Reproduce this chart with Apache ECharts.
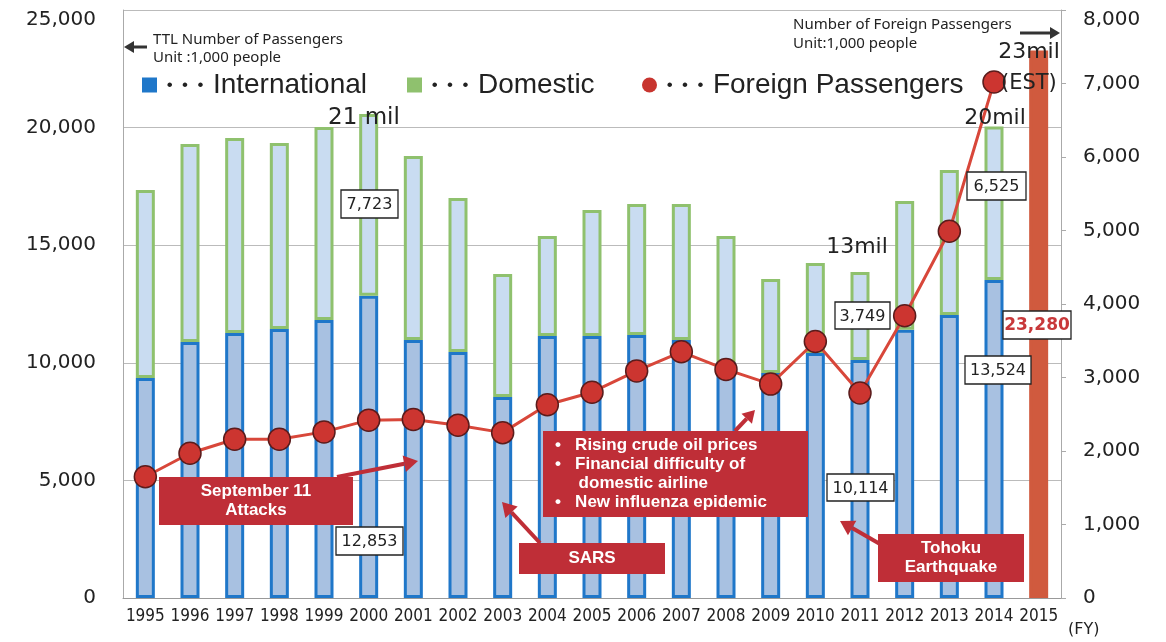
<!DOCTYPE html>
<html>
<head>
<meta charset="utf-8">
<script src="https://cdn.jsdelivr.net/npm/echarts@6/dist/echarts.min.js"></script>
<style>
  html, body { margin: 0; padding: 0; background: #fff; }
  #main { width: 1166px; height: 642px; }
</style>
</head>
<body>
<div id="main"></div>
<script>
// data (unit: 1,000 people)
var years = ['1995', '1996', '1997', '1998', '1999', '2000', '2001', '2002', '2003', '2004', '2005',
    '2006', '2007', '2008', '2009', '2010', '2011', '2012', '2013', '2014', '2015'];
var international = [9350, 10880, 11270, 11440, 11820, 12853, 10970, 10460, 8550, 11140, 11140,
    11180, 10970, 10030, 9570, 10420, 10114, 11400, 12030, 13524, '-'];
var domestic = [8000, 8420, 8290, 7910, 8210, 7723, 7820, 6550, 5230, 4250, 5360,
    5570, 5780, 5360, 3990, 3820, 3749, 5480, 6170, 6525, '-'];
var foreign = [1650, 1970, 2160, 2160, 2260, 2420, 2430, 2350, 2250, 2630, 2800,
    3090, 3350, 3110, 2910, 3490, 2790, 3840, 4990, 7020, '-'];
var estimate = ['-', '-', '-', '-', '-', '-', '-', '-', '-', '-', '-',
    '-', '-', '-', '-', '-', '-', '-', '-', '-', 23280];
var leftTicks = [0, 5000, 10000, 15000, 20000, 25000];
var rightTicks = [0, 1000, 2000, 3000, 4000, 5000, 6000, 7000, 8000];

var RED = '#bf2e37';
var fmt = function (v) { return Number(v).toLocaleString('en-US'); };

/** 箭头 */
function arrow(x1, y1, x2, y2, color, lw, hs) {
    var a = Math.atan2(y2 - y1, x2 - x1);
    var bx = x2 - hs * Math.cos(a), by = y2 - hs * Math.sin(a);
    var px = Math.sin(a) * hs * 0.6, py = -Math.cos(a) * hs * 0.6;
    return [
        {type: 'line', z: 100, shape: {x1: x1, y1: y1, x2: bx, y2: by}, style: {stroke: color, lineWidth: lw}},
        {type: 'polygon', z: 100, shape: {points: [[x2, y2], [bx + px, by + py], [bx - px, by - py]]}, style: {fill: color}}
    ];
}

/** 红色说明框 */
function redBox(x, y, w, h, text, align) {
    return [
        {type: 'rect', z: 100, shape: {x: x, y: y, width: w, height: h}, style: {fill: RED}},
        {
            type: 'text', z: 101,
            x: align === 'left' ? x + 12 : x + w / 2, y: y + h / 2,
            style: {
                text: text, fill: '#fff', font: 'bold 17px "Liberation Sans", Arial',
                align: align || 'center', verticalAlign: 'middle', lineHeight: 19
            }
        }
    ];
}

/** 数值框 */
function valueBox(x, y, w, h, text, color, bold) {
    return [
        {type: 'rect', z: 100, shape: {x: x, y: y, width: w, height: h}, style: {fill: '#fff', stroke: '#222', lineWidth: 1.3}},
        {
            type: 'text', z: 101, x: x + w / 2, y: y + h / 2 + 1,
            style: {
                text: text, fill: color || '#222',
                font: (bold ? 'bold 17px' : '16px') + ' "DejaVu Sans"',
                align: 'center', verticalAlign: 'middle'
            }
        }
    ];
}

function label(x, y, text, size, align) {
    return {
        type: 'text', z: 101, x: x, y: y,
        style: {text: text, fill: '#222', font: size + 'px "DejaVu Sans"', align: align || 'center', verticalAlign: 'middle'}
    };
}

function legendItem(name, left, icon, color) {
    return {
        left: left,
        top: 71,
        padding: 0,
        itemWidth: 15,
        itemHeight: 15,
        selectedMode: false,
        formatter: function (n) { return '{d| •  •  •  }' + n; },
        textStyle: {
            fontSize: 28, color: '#222', fontFamily: '"Liberation Sans", Arial',
            rich: {d: {fontSize: 17, color: '#222', fontFamily: '"Liberation Sans", Arial'}}
        },
        data: [{name: name, icon: icon, itemStyle: {color: color, borderWidth: 0}}]
    };
}

var graphics = [].concat(
    // axis titles
    {type: 'text', z: 101, x: 153, y: 40, style: {text: 'TTL Number of Passengers', fill: '#222', font: '15px "Noto Sans"', verticalAlign: 'middle'}},
    {type: 'text', z: 101, x: 153, y: 58, style: {text: 'Unit :1,000 people', fill: '#222', font: '15px "Noto Sans"', verticalAlign: 'middle'}},
    arrow(147, 47, 124, 47, '#333', 3, 10),
    {type: 'text', z: 101, x: 793, y: 25, style: {text: 'Number of Foreign Passengers', fill: '#222', font: '15px "Noto Sans"', verticalAlign: 'middle'}},
    {type: 'text', z: 101, x: 793, y: 44, style: {text: 'Unit:1,000 people', fill: '#222', font: '15px "Noto Sans"', verticalAlign: 'middle'}},
    arrow(1020, 33, 1060, 33, '#333', 3, 10),
    {type: 'text', z: 101, x: 1068, y: 630, style: {text: '(FY)', fill: '#222', font: '16px "DejaVu Sans"', verticalAlign: 'middle'}},
    // totals
    label(364, 118, '21 mil', 23),
    label(857, 247, '13mil', 22),
    label(995, 118, '20mil', 22),
    label(1029, 52, '23mil', 22),
    label(1001, 84, '(EST)', 21, 'left'),
    // value boxes
    valueBox(341, 190, 57, 28, fmt(domestic[5])),
    valueBox(336, 527, 67, 28, fmt(international[5])),
    valueBox(835, 302, 55, 27, fmt(domestic[16])),
    valueBox(827, 474, 67, 27, fmt(international[16])),
    valueBox(967, 172, 59, 28, fmt(domestic[19])),
    valueBox(965, 356, 66, 28, fmt(international[19])),
    valueBox(1003, 311, 68, 28, fmt(estimate[20]), '#c8383a', true),
    // events
    redBox(159, 477, 194, 48, 'September 11\nAttacks'),
    arrow(337, 477, 418, 461, RED, 4, 14),
    redBox(519, 543, 146, 31, 'SARS'),
    arrow(540, 543, 502, 502, RED, 4, 14),
    redBox(543, 431, 265, 86, '•   Rising crude oil prices\n•   Financial difficulty of\n     domestic airline\n•   New influenza epidemic', 'left'),
    arrow(735, 431, 755, 410, RED, 4, 12),
    redBox(878, 534, 146, 48, 'Tohoku\nEarthquake'),
    arrow(880, 544, 840, 521, RED, 4, 14)
);

var chart = echarts.init(document.getElementById('main'));
chart.setOption({
    backgroundColor: '#fff',
    animation: false,
    grid: {left: 123, right: 105, top: 10, bottom: 44},
    legend: [
        legendItem('International', 142, 'rect', '#1f77c9'),
        legendItem('Domestic', 407, 'rect', '#8fc16e'),
        legendItem('Foreign Passengers', 642, 'circle', '#c8352f')
    ],
    xAxis: {
        type: 'category',
        data: years,
        axisLine: {lineStyle: {color: '#999'}},
        axisTick: {lineStyle: {color: '#999'}},
        axisLabel: {interval: 0, margin: 10, fontSize: 17, color: '#222', fontFamily: '"DejaVu Sans Condensed", "Liberation Sans"'}
    },
    yAxis: [{
        type: 'value',
        min: leftTicks[0],
        max: leftTicks[leftTicks.length - 1],
        interval: 5000,
        axisLine: {show: true, lineStyle: {color: '#aaa'}},
        axisTick: {show: false},
        splitLine: {lineStyle: {color: '#bbb'}},
        axisLabel: {
            margin: 27, fontSize: 20, color: '#222', fontFamily: '"DejaVu Sans"',
            formatter: function (v) { return v === 25000 ? '{top|' + fmt(v) + '}' : fmt(v); },
            rich: {top: {fontSize: 20, color: '#222', fontFamily: '"DejaVu Sans"', padding: [20, 0, 0, 0]}}
        }
    }, {
        type: 'value',
        min: rightTicks[0],
        max: rightTicks[rightTicks.length - 1],
        interval: 1000,
        axisLine: {show: true, lineStyle: {color: '#aaa'}},
        axisTick: {show: true, length: 5, lineStyle: {color: '#aaa'}},
        splitLine: {show: false},
        axisLabel: {
            margin: 22, fontSize: 20, color: '#222', fontFamily: '"DejaVu Sans"',
            formatter: function (v) { return v === 8000 ? '{top|' + fmt(v) + '}' : fmt(v); },
            rich: {top: {fontSize: 20, color: '#222', fontFamily: '"DejaVu Sans"', padding: [20, 0, 0, 0]}}
        }
    }],
    series: [{
        name: 'International',
        type: 'bar',
        stack: 'ttl',
        barWidth: 19,
        itemStyle: {color: '#a8c1e1', borderColor: '#1f77c9', borderWidth: 3},
        data: international
    }, {
        name: 'Domestic',
        type: 'bar',
        stack: 'ttl',
        itemStyle: {color: '#c9dcf1', borderColor: '#8fc16e', borderWidth: 3},
        data: domestic
    }, {
        name: 'EST',
        type: 'bar',
        stack: 'ttl',
        itemStyle: {color: '#d05a3e', borderColor: '#d05a3e', borderWidth: 3},
        data: estimate
    }, {
        name: 'Foreign Passengers',
        type: 'line',
        yAxisIndex: 1,
        symbol: 'circle',
        symbolSize: 22,
        z: 5,
        lineStyle: {color: '#d8473a', width: 3},
        itemStyle: {color: '#cc3530', borderColor: '#5a1c1c', borderWidth: 1.5},
        data: foreign
    }],
    graphic: graphics
});
</script>
</body>
</html>
